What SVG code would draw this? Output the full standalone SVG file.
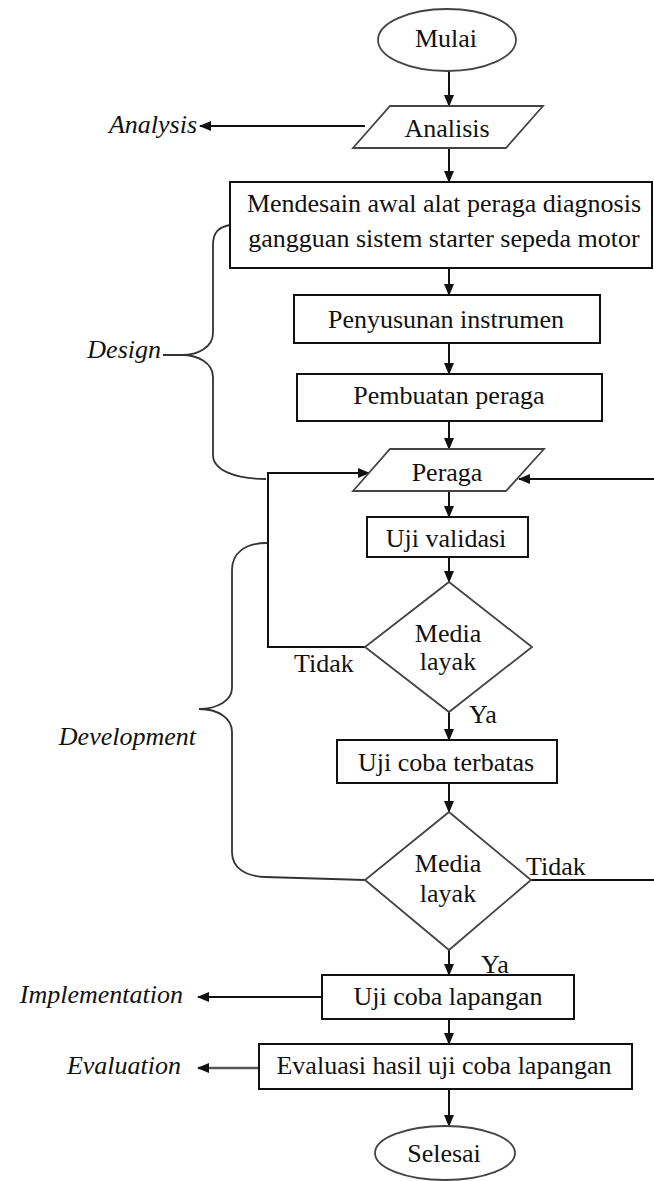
<svg xmlns="http://www.w3.org/2000/svg" width="654" height="1181" viewBox="0 0 654 1181">
<style>
text{font-family:"Liberation Serif","Times New Roman",serif;font-size:26px;fill:#111}
.c{text-anchor:middle}
.e{text-anchor:end}
.i{font-style:italic}
.box{fill:#fff;stroke:#111;stroke-width:2}
.shape{fill:#fff;stroke:#444;stroke-width:1.8}
.ln{fill:none;stroke:#111;stroke-width:2}
.br{fill:none;stroke:#333;stroke-width:1.8}
</style>
<defs>
<marker id="ah" markerUnits="userSpaceOnUse" markerWidth="12" markerHeight="12" viewBox="0 0 12 12" refX="11" refY="6" orient="auto">
<path d="M0,1 L12,6 L0,11 z" fill="#111"/>
</marker>
</defs>
<g id="connectors">
<line class="ln" x1="449" y1="71" x2="449" y2="106" marker-end="url(#ah)"/>
<line class="ln" x1="365" y1="126" x2="200" y2="126" marker-end="url(#ah)"/>
<line class="ln" x1="449" y1="148" x2="449" y2="182" marker-end="url(#ah)"/>
<line class="ln" x1="449" y1="268" x2="449" y2="295" marker-end="url(#ah)"/>
<line class="ln" x1="449" y1="343" x2="449" y2="374" marker-end="url(#ah)"/>
<line class="ln" x1="449" y1="421" x2="449" y2="449" marker-end="url(#ah)"/>
<line class="ln" x1="449" y1="491" x2="449" y2="517" marker-end="url(#ah)"/>
<line class="ln" x1="449" y1="557" x2="449" y2="582" marker-end="url(#ah)"/>
<polyline class="ln" points="365,647 268,647 268,473 369,473" marker-end="url(#ah)"/>
<line class="ln" x1="449" y1="712" x2="449" y2="740" marker-end="url(#ah)"/>
<line class="ln" x1="449" y1="783" x2="449" y2="812" marker-end="url(#ah)"/>
<polyline class="ln" points="531,880 657,880 657,479 519,479" marker-end="url(#ah)"/>
<line class="ln" x1="449" y1="950" x2="449" y2="975" marker-end="url(#ah)"/>
<line class="ln" x1="322" y1="997" x2="198" y2="997" marker-end="url(#ah)"/>
<line class="ln" x1="449" y1="1019" x2="449" y2="1044" marker-end="url(#ah)"/>
<line x1="259" y1="1068" x2="198" y2="1068" stroke="#555" stroke-width="2.6" marker-end="url(#ah)"/>
<line class="ln" x1="449" y1="1089" x2="449" y2="1126" marker-end="url(#ah)"/>
</g>
<g id="brace-design">
<path class="br" d="M230,225 C218,227 213,233 213,245 L213,333 C213,347 198,355 182,355 L163,355 M182,355 C198,355 213,363 213,377 L213,455 C213,470 235,479 266,479"/>
<text class="e i" x="161" y="358">Design</text>
</g>
<g id="brace-development">
<path class="br" d="M267,543 C245,543 232,553 232,570 L232,688 C232,700 218,709 199,709 C218,709 232,718 232,732 L232,852 C232,868 245,876 265,877 L365,880"/>
<text class="e i" x="196" y="745">Development</text>
</g>
<g id="mulai">
<ellipse class="shape" cx="447" cy="40" rx="69" ry="31"/>
<text class="c" x="446" y="47">Mulai</text>
</g>
<g id="analisis">
<polygon class="shape" points="390,106 543,106 506,148 353,148"/>
<text class="c" x="447" y="137">Analisis</text>
<text class="e i" x="197" y="133">Analysis</text>
</g>
<g id="mendesain">
<rect class="box" x="230" y="182" width="422" height="86"/>
<text class="c" x="444" y="212">Mendesain awal alat peraga diagnosis</text>
<text class="c" x="444" y="247">gangguan sistem starter sepeda motor</text>
</g>
<g id="penyusunan">
<rect class="box" x="294" y="295" width="306" height="48"/>
<text class="c" x="446" y="328">Penyusunan instrumen</text>
</g>
<g id="pembuatan">
<rect class="box" x="297" y="374" width="305" height="47"/>
<text class="c" x="449" y="404">Pembuatan peraga</text>
</g>
<g id="peraga">
<polygon class="shape" points="390,449 544,449 506,491 353,491"/>
<text class="c" x="447" y="481">Peraga</text>
</g>
<g id="uji-validasi">
<rect class="box" x="367" y="517" width="161" height="40"/>
<text class="c" x="446" y="547">Uji validasi</text>
</g>
<g id="decision1">
<polygon class="shape" points="449,582 532,647 449,712 365,647"/>
<text class="c" x="448" y="642">Media</text>
<text class="c" x="448" y="670">layak</text>
<text x="294" y="672">Tidak</text>
<text x="469" y="723">Ya</text>
</g>
<g id="uji-terbatas">
<rect class="box" x="337" y="740" width="220" height="43"/>
<text class="c" x="446" y="771">Uji coba terbatas</text>
</g>
<g id="decision2">
<polygon class="shape" points="449,812 531,880 449,950 365,880"/>
<text class="c" x="448" y="872">Media</text>
<text class="c" x="448" y="902">layak</text>
<text x="526" y="875">Tidak</text>
<text x="481" y="973">Ya</text>
</g>
<g id="uji-lapangan">
<rect class="box" x="322" y="975" width="252" height="44"/>
<text class="c" x="448" y="1005">Uji coba lapangan</text>
<text class="e i" x="183" y="1003">Implementation</text>
</g>
<g id="evaluasi">
<rect class="box" x="259" y="1044" width="373" height="45"/>
<text class="c" x="444" y="1074">Evaluasi hasil uji coba lapangan</text>
<text class="e i" x="181" y="1074">Evaluation</text>
</g>
<g id="selesai">
<ellipse class="shape" cx="445" cy="1153" rx="70" ry="27"/>
<text class="c" x="444" y="1162">Selesai</text>
</g>
</svg>
